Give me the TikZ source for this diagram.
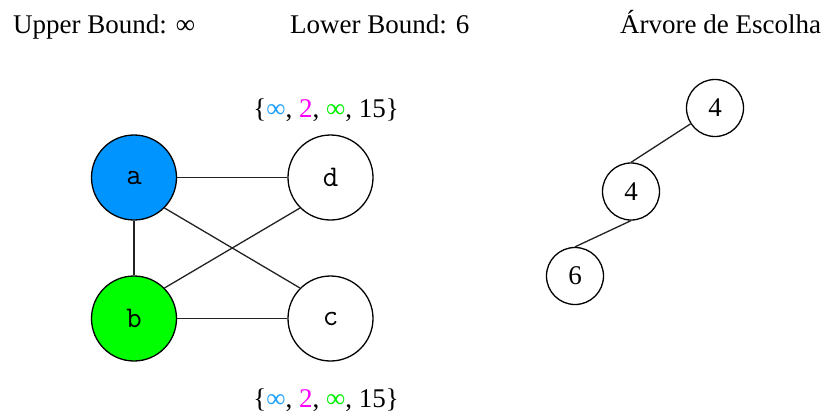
\documentclass[tikz,border=0pt]{standalone}
\usepackage{fontspec}
\setmainfont{Liberation Serif}
\usepackage{tikz}
\usetikzlibrary{positioning}
\definecolor{nodeblue}{HTML}{0094FF}
\definecolor{infblue}{HTML}{1EA0FF}
\definecolor{nodegreen}{HTML}{00FF00}
\definecolor{infgreen}{HTML}{00F000}
\definecolor{twomag}{HTML}{FF00FF}
\definecolor{edgegray}{HTML}{222222}

\tikzset{
  vertex/.style={circle, draw=black, line width=1.3pt, minimum size=85pt, inner sep=0pt,
    font=\ttfamily\fontsize{30}{32}\selectfont},
  treenode/.style={circle, draw=black, line width=1.3pt, minimum size=57pt, inner sep=0pt,
    font=\fontsize{27}{30}\selectfont},
  heading/.style={anchor=base west, inner sep=0pt, font=\fontsize{27}{32}\selectfont},
  edge/.style={edgegray, line width=1.3pt}
}

\begin{document}
\begin{tikzpicture}[x=1pt, y=-1pt]
  \useasboundingbox (0,0) rectangle (830,418);
  % headings
  \node[heading] (ub) at (13,33) {Upper Bound: ∞};
  \node[heading] (lb) at (290,33) {Lower Bound: 6};
  \node[heading] (tree) at (620,33) {Árvore de Escolha};
  % graph
  \node[vertex, fill=nodeblue] (a) at (134,177.5) {a};
  \node[vertex] (d) at (330.5,177.5) {d};
  \node[vertex, fill=nodegreen] (b) at (134,318.5) {b};
  \node[vertex] (c) at (330.5,318.5) {c};
  \draw[edge] (a) -- (d);
  \draw[edge] (a) -- (b);
  \draw[edge] (a.-45) -- (c.135);
  \draw[edge] (b.45) -- (d.-135);
  \draw[edge] (b) -- (c);
  % sets
  \node[heading, anchor=base] (dset) at (326,117)
    {\{\textcolor{infblue}{∞}, \textcolor{twomag}{2}, \textcolor{infgreen}{∞}, 15\}};
  \node[heading, anchor=base] (cset) at (326,407)
    {\{\textcolor{infblue}{∞}, \textcolor{twomag}{2}, \textcolor{infgreen}{∞}, 15\}};
  % choice tree
  \node[treenode] (r) at (715,108) {4};
  \node[treenode] (m) at (631,191.5) {4};
  \node[treenode] (s) at (575,276) {6};
  \draw[edge] (r) -- (m.north);
  \draw[edge] (m.south) -- (s.north);
\end{tikzpicture}
\end{document}
